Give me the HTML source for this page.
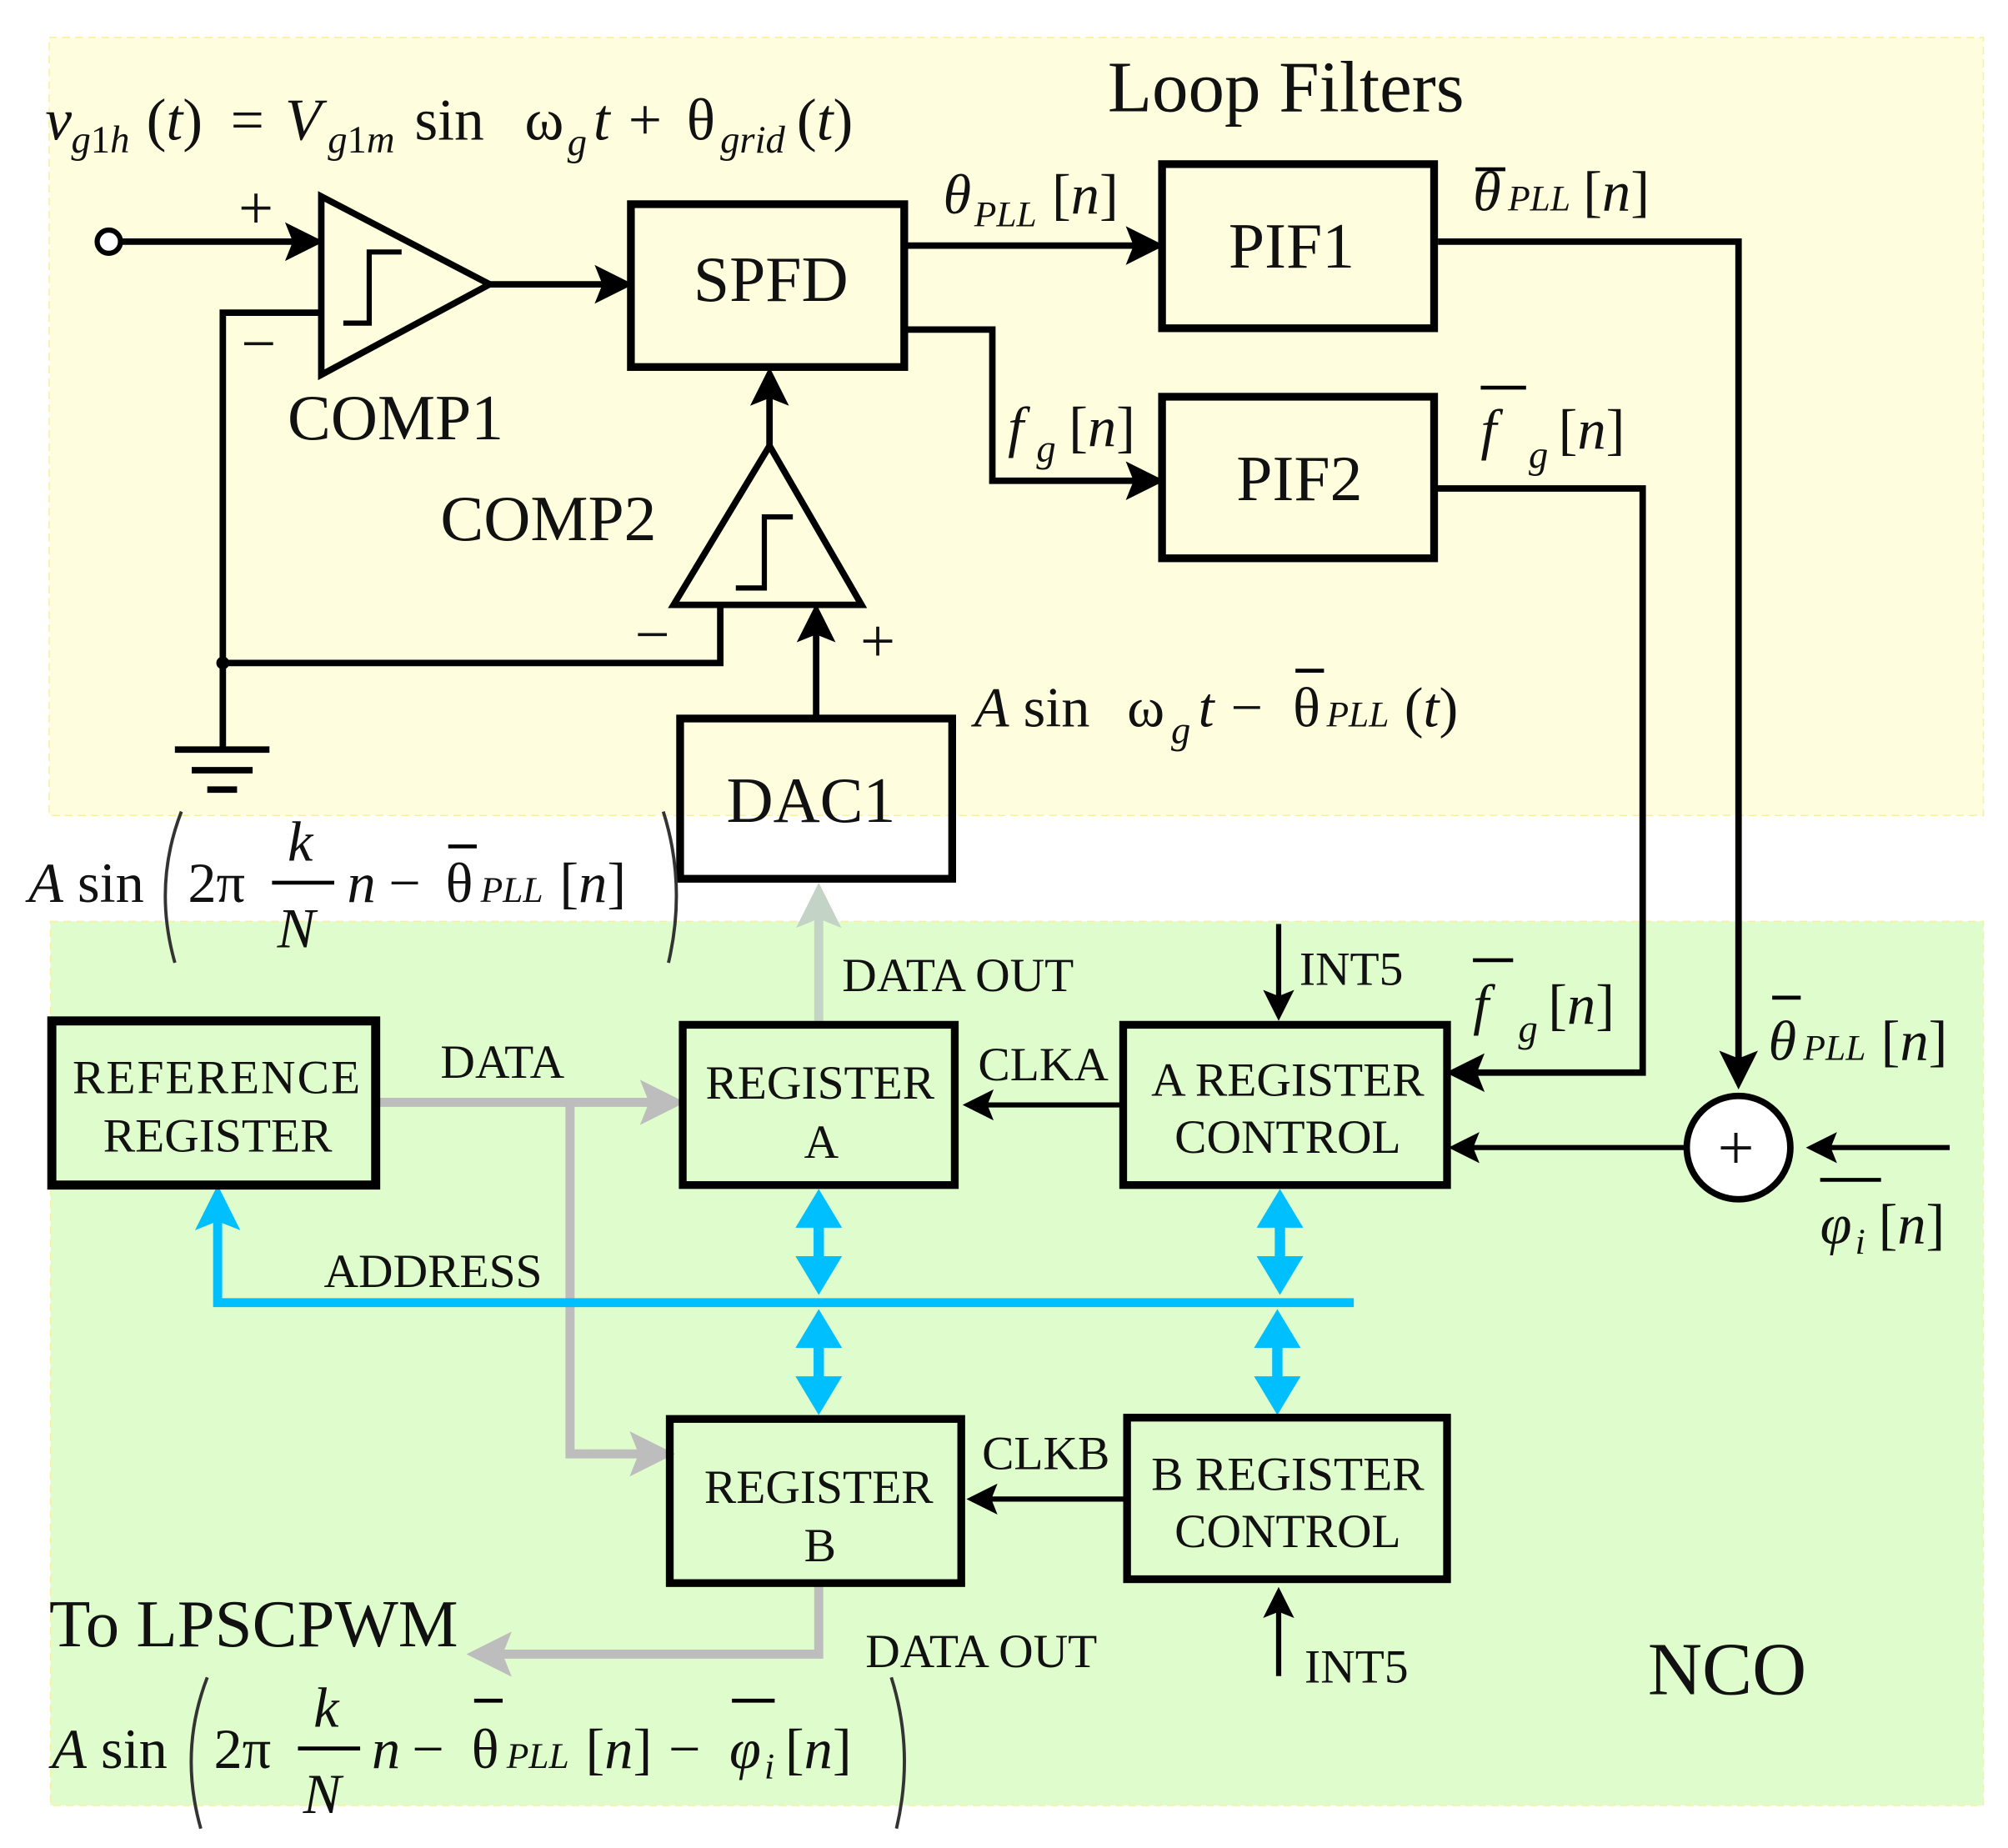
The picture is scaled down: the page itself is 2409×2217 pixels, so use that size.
<!DOCTYPE html>
<html><head><meta charset="utf-8"><style>
html,body{margin:0;padding:0;background:#fff}
svg{display:block}
text{font-family:"Liberation Serif","DejaVu Serif",serif;fill:#111}
.it{font-style:italic}
</style></head><body>
<svg width="2409" height="2217" viewBox="0 0 1550 1430" preserveAspectRatio="none" xmlns="http://www.w3.org/2000/svg">
<defs>
<marker id="ab" markerWidth="6" markerHeight="6" refX="5" refY="3" orient="auto" markerUnits="strokeWidth"><path d="M0,0 L6,3 L0,6 L1.2,3 z" fill="#000"/></marker>
<marker id="ag" markerWidth="5" markerHeight="5" refX="4" refY="2.5" orient="auto" markerUnits="strokeWidth"><path d="M0,0 L5,2.5 L0,5 L1,2.5 z" fill="#bdbdbd"/></marker>
<marker id="ag2" markerWidth="5" markerHeight="5" refX="4" refY="2.5" orient="auto" markerUnits="strokeWidth"><path d="M0,0 L5,2.5 L0,5 L1,2.5 z" fill="#c3d3c6"/></marker>
<marker id="abl" markerWidth="5" markerHeight="5" refX="4" refY="2.5" orient="auto" markerUnits="strokeWidth"><path d="M0,0 L5,2.5 L0,5 L1,2.5 z" fill="#00bfff"/></marker>
</defs>
<rect x="38" y="29" width="1493" height="602" fill="#fefedf" stroke="#f6f0a0" stroke-dasharray="6,4" stroke-width="1"/>
<rect x="39" y="713" width="1492" height="684" fill="#dffdcc" stroke="#f6f0a0" stroke-dasharray="6,4" stroke-width="1"/>

<text x="855" y="86" font-size="56">Loop Filters</text>
<!-- main equation -->
<g font-size="46">
<text x="35" y="108" class="it">v</text>
<text x="55" y="118" font-size="30"><tspan class="it">g</tspan>1<tspan class="it">h</tspan></text>
<text x="113" y="108">(<tspan class="it">t</tspan>)</text>
<text x="178" y="108">=</text>
<text x="220" y="108" class="it">V</text>
<text x="253" y="118" font-size="30"><tspan class="it">g</tspan>1<tspan class="it">m</tspan></text>
<text x="320" y="108">sin</text>
<text x="405" y="108">ω</text>
<text x="438" y="120" font-size="30" class="it">g</text>
<text x="458" y="108" class="it">t</text>
<text x="485" y="108">+</text>
<text x="530" y="108">θ</text>
<text x="556" y="118" font-size="30" class="it">grid</text>
<text x="615" y="108">(<tspan class="it">t</tspan>)</text>
</g>

<g fill="none" stroke="#000" stroke-width="5">
<circle cx="84" cy="187" r="9" stroke-width="4" fill="#fff"/>
<line x1="93" y1="187" x2="245" y2="187" marker-end="url(#ab)"/>
<polygon points="248,152 248,290 378,220"/>
<polyline points="265,250 285,250 285,195 310,195" stroke-width="4"/>
<polyline points="248,242 172,242 172,580"/>
<line x1="378" y1="220" x2="484" y2="220" marker-end="url(#ab)"/>
<rect x="487" y="158" width="211" height="126" stroke-width="6"/>
<line x1="698" y1="190" x2="894" y2="190" marker-end="url(#ab)"/>
<rect x="897" y="127" width="210" height="127" stroke-width="6"/>
<polyline points="698,255 766,255 766,372 894,372" marker-end="url(#ab)"/>
<rect x="897" y="307" width="210" height="125" stroke-width="6"/>
<polyline points="1110,187 1342,187 1342,838" marker-end="url(#ab)"/>
<polyline points="1107,378 1268,378 1268,830 1121,830" marker-end="url(#ab)"/>
<line x1="594" y1="345" x2="594" y2="289" marker-end="url(#ab)"/>
<polygon points="520,468 665,468 594,345"/>
<polyline points="568,455 590,455 590,400 612,400" stroke-width="4"/>
<polyline points="556,468 556,513 172,513"/>
<line x1="630" y1="555" x2="630" y2="472" marker-end="url(#ab)"/>
<line x1="135" y1="580" x2="208" y2="580"/>
<line x1="148" y1="596" x2="195" y2="596"/>
<line x1="160" y1="611" x2="183" y2="611"/>
<rect x="525" y="556" width="210" height="124" stroke-width="6"/>
</g>
<circle cx="172" cy="513" r="5" fill="#000"/>

<g font-size="48">
<text x="184" y="177">+</text>
<text x="186" y="282">−</text>
<text x="490" y="507">−</text>
<text x="664" y="512">+</text>
</g>
<g font-size="50">
<text x="222" y="340">COMP1</text>
<text x="340" y="418">COMP2</text>
<text x="595" y="233" text-anchor="middle">SPFD</text>
<text x="997" y="207" text-anchor="middle">PIF1</text>
<text x="1003" y="387" text-anchor="middle">PIF2</text>
<text x="626" y="636" text-anchor="middle">DAC1</text>
</g>

<g stroke="#000" stroke-width="3">
<line x1="1139" y1="131" x2="1162" y2="131"/>
<line x1="1143" y1="300" x2="1178" y2="300"/>
<line x1="1000" y1="519" x2="1022" y2="519"/>
<line x1="346" y1="655" x2="368" y2="655"/>
<line x1="1137" y1="743" x2="1168" y2="743"/>
<line x1="1368" y1="772" x2="1390" y2="772"/>
<line x1="1405" y1="913" x2="1452" y2="913"/>
<line x1="366" y1="1316" x2="388" y2="1316"/>
<line x1="565" y1="1316" x2="598" y2="1316"/>
</g>
<g font-size="44">
<!-- theta_PLL[n] after SPFD -->
<text x="728" y="165" class="it">θ</text>
<text x="752" y="175" font-size="28" class="it">PLL</text>
<text x="812" y="165">[<tspan class="it">n</tspan>]</text>
<!-- f_g[n] -->
<text x="778" y="345" class="it">f</text>
<text x="800" y="357" font-size="30" class="it">g</text>
<text x="825" y="345">[<tspan class="it">n</tspan>]</text>
<!-- theta bar PIF1 -->
<text x="1137" y="163" class="it">θ</text>
<text x="1164" y="163" font-size="28" class="it">PLL</text>
<text x="1222" y="163">[<tspan class="it">n</tspan>]</text>
<!-- f bar PIF2 -->
<text x="1143" y="347" class="it">f</text>
<text x="1180" y="362" font-size="30" class="it">g</text>
<text x="1203" y="347">[<tspan class="it">n</tspan>]</text>
<!-- DAC label -->
<text x="752" y="562"><tspan class="it">A</tspan> sin</text>
<text x="870" y="562">ω</text>
<text x="904" y="575" font-size="30" class="it">g</text>
<text x="925" y="562" class="it">t</text>
<text x="950" y="562">−</text>
<text x="998" y="562">θ</text>
<text x="1024" y="562" font-size="28" class="it">PLL</text>
<text x="1084" y="562">(<tspan class="it">t</tspan>)</text>
<!-- left formula -->
<text x="22" y="698"><tspan class="it">A</tspan> sin</text>
<text x="145" y="698">2π</text>
<text x="222" y="666" class="it">k</text>
<text x="214" y="733" class="it">N</text>
<text x="268" y="698" class="it">n</text>
<text x="300" y="698">−</text>
<text x="344" y="698">θ</text>
<text x="371" y="698" font-size="28" class="it">PLL</text>
<text x="432" y="698">[<tspan class="it">n</tspan>]</text>
<!-- NCO theta -->
<text x="1365" y="820" class="it">θ</text>
<text x="1392" y="820" font-size="28" class="it">PLL</text>
<text x="1452" y="820">[<tspan class="it">n</tspan>]</text>
<!-- phi -->
<text x="1405" y="962" class="it">φ</text>
<text x="1432" y="970" font-size="28" class="it">i</text>
<text x="1450" y="962">[<tspan class="it">n</tspan>]</text>
<!-- f bar lower -->
<text x="1137" y="792" class="it">f</text>
<text x="1172" y="806" font-size="30" class="it">g</text>
<text x="1195" y="792">[<tspan class="it">n</tspan>]</text>
<!-- bottom formula -->
<text x="40" y="1368"><tspan class="it">A</tspan> sin</text>
<text x="165" y="1368">2π</text>
<text x="242" y="1336" class="it">k</text>
<text x="234" y="1403" class="it">N</text>
<text x="287" y="1368" class="it">n</text>
<text x="318" y="1368">−</text>
<text x="364" y="1368">θ</text>
<text x="391" y="1368" font-size="28" class="it">PLL</text>
<text x="452" y="1368">[<tspan class="it">n</tspan>]</text>
<text x="516" y="1368">−</text>
<text x="563" y="1368" class="it">φ</text>
<text x="590" y="1376" font-size="28" class="it">i</text>
<text x="606" y="1368">[<tspan class="it">n</tspan>]</text>
</g>
<g stroke="#000" stroke-width="3">
<line x1="210" y1="683" x2="258" y2="683"/>
<line x1="230" y1="1353" x2="278" y2="1353"/>
</g>
<g fill="none" stroke="#333" stroke-width="2.5">
<path d="M140,628 Q118,685 135,745"/>
<path d="M512,628 Q530,685 516,745"/>
<path d="M160,1298 Q138,1355 155,1415"/>
<path d="M688,1298 Q706,1355 692,1415"/>
</g>

<!-- NCO section -->
<line x1="632" y1="790" x2="632" y2="690" stroke="#c3d3c6" stroke-width="7" marker-end="url(#ag2)"/>
<g fill="none" stroke="#bdbdbd" stroke-width="7">
<line x1="290" y1="853" x2="522" y2="853" marker-end="url(#ag)"/>
<polyline points="440,853 440,1125 514,1125" marker-end="url(#ag)"/>
<polyline points="632,1225 632,1280 367,1280" marker-end="url(#ag)"/>
</g>
<g fill="none" stroke="#00bfff" stroke-width="7">
<polyline points="1045,1008 168,1008 168,924" marker-end="url(#abl)"/>
</g>
<g fill="#00bfff">
<path d="M632,920 L614,950 L628,950 L628,972 L614,972 L632,1002 L650,972 L636,972 L636,950 L650,950 Z"/>
<path d="M632,1013 L614,1043 L628,1043 L628,1065 L614,1065 L632,1095 L650,1065 L636,1065 L636,1043 L650,1043 Z"/>
<path d="M988,920 L970,950 L984,950 L984,972 L970,972 L988,1002 L1006,972 L992,972 L992,950 L1006,950 Z"/>
<path d="M986,1013 L968,1043 L982,1043 L982,1065 L968,1065 L986,1095 L1004,1065 L990,1065 L990,1043 L1004,1043 Z"/>
</g>
<g fill="none" stroke="#000" stroke-width="6">
<rect x="40" y="790" width="250" height="127" stroke-width="7"/>
<rect x="527" y="793" width="210" height="124"/>
<rect x="867" y="793" width="250" height="124"/>
<rect x="517" y="1098" width="225" height="127"/>
<rect x="870" y="1097" width="247" height="125"/>
</g>
<g fill="none" stroke="#000" stroke-width="4">
<line x1="867" y1="855" x2="747" y2="855" marker-end="url(#ab)"/>
<line x1="870" y1="1160" x2="750" y2="1160" marker-end="url(#ab)"/>
<line x1="987" y1="715" x2="987" y2="786" marker-end="url(#ab)"/>
<line x1="987" y1="1297" x2="987" y2="1232" marker-end="url(#ab)"/>
<line x1="1300" y1="888" x2="1122" y2="888" marker-end="url(#ab)"/>
<line x1="1505" y1="888" x2="1398" y2="888" marker-end="url(#ab)"/>
<circle cx="1342" cy="888" r="40" fill="#fff" stroke-width="5"/>
</g>
<text x="1340" y="905" font-size="50" text-anchor="middle">+</text>

<g font-size="37">
<text x="167" y="846" text-anchor="middle" textLength="222">REFERENCE</text>
<text x="168" y="891" text-anchor="middle">REGISTER</text>
<text x="633" y="850" text-anchor="middle">REGISTER</text>
<text x="634" y="896" text-anchor="middle">A</text>
<text x="994" y="848" text-anchor="middle">A REGISTER</text>
<text x="994" y="892" text-anchor="middle">CONTROL</text>
<text x="632" y="1163" text-anchor="middle">REGISTER</text>
<text x="633" y="1208" text-anchor="middle">B</text>
<text x="994" y="1153" text-anchor="middle">B REGISTER</text>
<text x="994" y="1197" text-anchor="middle">CONTROL</text>
<text x="340" y="834">DATA</text>
<text x="650" y="767">DATA OUT</text>
<text x="755" y="836">CLKA</text>
<text x="758" y="1137">CLKB</text>
<text x="1003" y="762">INT5</text>
<text x="1007" y="1302">INT5</text>
<text x="250" y="996">ADDRESS</text>
<text x="668" y="1290">DATA OUT</text>
</g>
<text x="38" y="1274" font-size="52">To LPSCPWM</text>
<text x="1272" y="1311" font-size="58">NCO</text>
</svg>
</body></html>
